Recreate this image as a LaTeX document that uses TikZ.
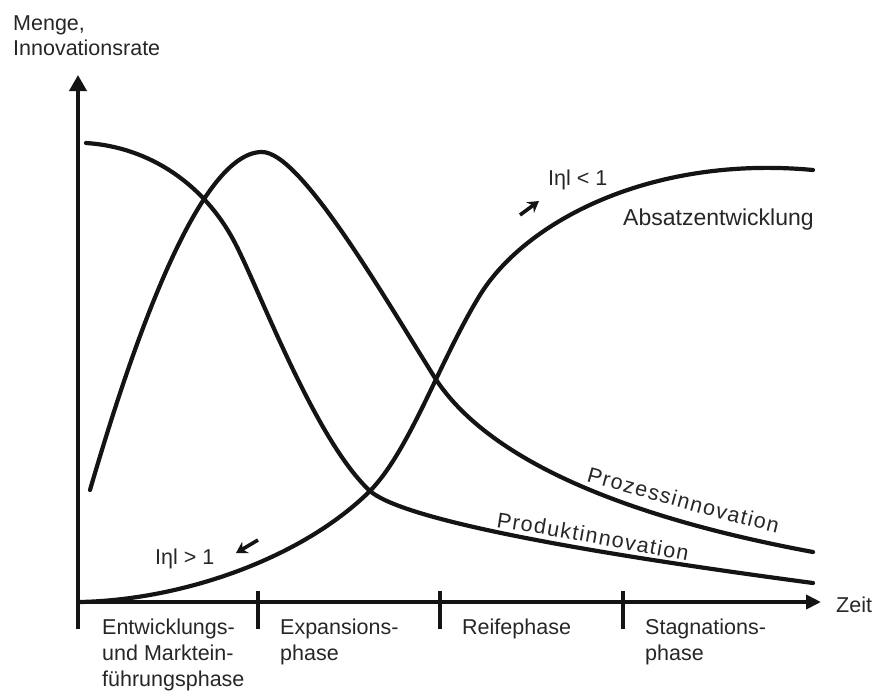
\documentclass[tikz,border=0pt]{standalone}
\usepackage{fontspec}
\setmainfont{Liberation Sans}
\usetikzlibrary{arrows.meta,decorations.text}
\definecolor{ink}{HTML}{141414}
\definecolor{txt}{HTML}{262626}
\newcommand\lblsize{\fontsize{21.5}{26}\selectfont}
\newcommand\bigsize{\fontsize{23}{27}\selectfont}

\begin{document}
\begin{tikzpicture}[x=1pt,y=-1pt,
  axis/.style={line width=3.8pt, draw=ink},
  curve/.style={line width=4.2pt, draw=ink, line cap=round, line join=round},
  lbl/.style={font=\lblsize, text=txt, inner sep=0pt, align=left},
  hint/.style={line width=3.6pt, draw=ink, -{Stealth[length=11pt,width=13pt]}},
  tickmark/.style={line width=3.4pt, draw=ink}]
\useasboundingbox (0,0) rectangle (877,691);

% axes
\coordinate (O) at (78,602);
\coordinate (ybot) at (78,629);
\coordinate (ytip) at (78,75);
\coordinate (xtip) at (821,602);
\draw[axis,-{Triangle[length=16pt,width=17pt]}] (ybot) -- (ytip);
\draw[axis,-{Triangle[length=15pt,width=14pt]}] (O) -- (xtip);
\foreach \x in {258,440,623}
  \draw[tickmark] (\x,591) -- (\x,629);

% Produktinnovation
\draw[curve] (86,143) .. controls (150,147) and (205,185) .. (235,243)
  .. controls (260,291) and (315,440) .. (370,491)
  .. controls (400,517) and (550,548) .. (813,583);

% Prozessinnovation
\draw[curve] (90,490) .. controls (125,370) and (195,152) .. (262,152)
  .. controls (300,152) and (380,290) .. (435,378)
  .. controls (470,432) and (560,505) .. (813,552);

% Absatzentwicklung
\draw[curve] (80,602) .. controls (180,600) and (300,560) .. (370,491)
  .. controls (410,450) and (440,360) .. (480,295)
  .. controls (525,222) and (650,155) .. (813,170);

% curve labels
\path[decorate, decoration={text along path, text color=txt,
  text={|\lblsize|Prozessinnovation}, text align={fit to path}}]
  (586,481) .. controls (640,496) and (710,517) .. (777,533);
\path[decorate, decoration={text along path, text color=txt,
  text={|\lblsize|Produktinnovation}, text align={fit to path}}]
  (496,527) .. controls (560,537) and (620,548) .. (687,561);
\node[lbl, font=\bigsize, anchor=base west] (absatz) at (623,225) {Absatzentwicklung};

% elasticity hints
\node[lbl, anchor=base west] (etalow) at (548,185) {Iηl < 1};
\node[lbl, anchor=base west] (etahigh) at (155,564) {Iηl > 1};
\coordinate (upA) at (520,215);
\coordinate (upB) at (539,201);
\coordinate (dnA) at (258,540);
\coordinate (dnB) at (236,553);
\draw[hint] (upA) -- (upB);
\draw[hint] (dnA) -- (dnB);

% axis titles
\node[lbl, anchor=north west, font=\fontsize{21.5}{25}\selectfont] (ytitle) at (13,16) {Menge,\\Innovationsrate};
\node[lbl, anchor=base west] (xtitle) at (836,612) {Zeit};

% phases
\node[lbl, anchor=north west] (ph1) at (102,619) {Entwicklungs-\\und Marktein-\\führungsphase};
\node[lbl, anchor=north west] (ph2) at (280,619) {Expansions-\\phase};
\node[lbl, anchor=north west] (ph3) at (462,619) {Reifephase};
\node[lbl, anchor=north west] (ph4) at (645,619) {Stagnations-\\phase};
\end{tikzpicture}
\end{document}
